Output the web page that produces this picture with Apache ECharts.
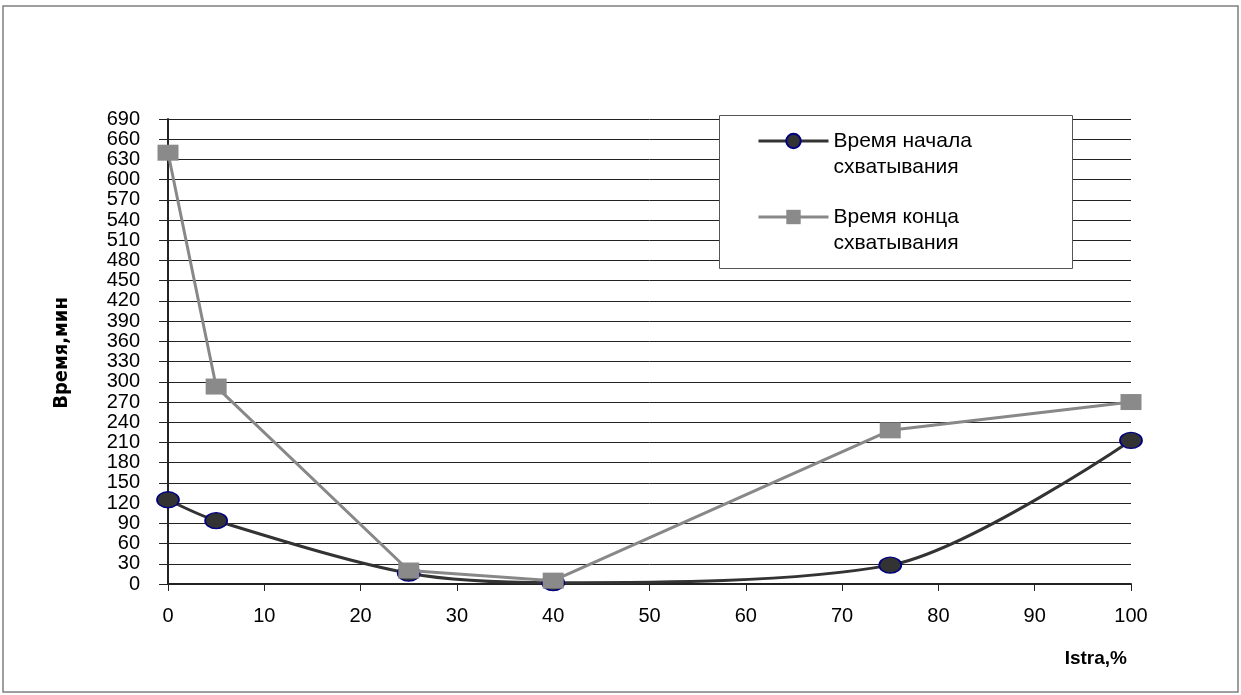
<!DOCTYPE html>
<html>
<head>
<meta charset="utf-8">
<script src="https://cdn.jsdelivr.net/npm/echarts@6/dist/echarts.min.js"></script>
<style>
  html, body { margin: 0; padding: 0; background: #fff; }
  #chart { width: 1241px; height: 695px; }
</style>
</head>
<body>
<div id="chart"></div>
<script>
// Istra content, %
const percentages = [0, 5, 25, 40, 75, 100];
// Setting times, minutes
const startTimes = [125, 94, 16, 2, 28, 213];
const endTimes = [640, 293, 20, 5, 228, 270];

const seriesNames = ['Время начала\nсхватывания', 'Время конца\nсхватывания'];
const yAxisTitle = 'Время,мин';
const xAxisTitle = 'Istra,%';

const pairs = (xs, ys) => xs.map((x, i) => [x, ys[i]]);

const chart = echarts.init(document.getElementById('chart'), null, { renderer: 'canvas' });

chart.setOption({
  backgroundColor: '#ffffff',
  animation: false,
  textStyle: { fontFamily: 'Liberation Sans, Arial, sans-serif' },
  grid: { left: 168, right: 110, top: 119, bottom: 111, show: false },
  xAxis: {
    type: 'value',
    min: 0, max: 100, interval: 10,
    axisLine: { show: true, lineStyle: { color: '#222', width: 2 } },
    axisTick: { show: true, inside: false, length: 7, lineStyle: { color: '#222', width: 1 } },
    axisLabel: { margin: 22, fontSize: 20, color: '#000', fontFamily: 'Liberation Sans, Arial, sans-serif' },
    splitLine: { show: false }
  },
  yAxis: {
    type: 'value',
    min: 0, max: 690, interval: 30,
    axisLine: { show: true, lineStyle: { color: '#222', width: 2 } },
    axisTick: { show: true, inside: false, length: 9, lineStyle: { color: '#222', width: 1 } },
    axisLabel: { margin: 28, fontSize: 20, color: '#000', fontFamily: 'Liberation Sans, Arial, sans-serif' },
    splitLine: { show: true, lineStyle: { color: '#222', width: 1 } }
  },
  legend: {
    orient: 'vertical',
    left: 757, top: 102,
    padding: 0,
    itemGap: -2,
    itemWidth: 70, itemHeight: 18,
    lineStyle: { width: 3 },
    // a leading blank line puts the icon level with the caption's first line
    formatter: name => '\n' + name,
    textStyle: {
      fontSize: 21, lineHeight: 26, color: '#000',
      fontFamily: 'Liberation Sans, Arial, sans-serif'
    },
    data: seriesNames,
    z: 6
  },
  graphic: [
    {
      type: 'rect', z: -1, silent: true,
      shape: { x: 3, y: 6, width: 1235, height: 686 },
      style: { fill: 'none', stroke: '#7f7f7f', lineWidth: 1.5 }
    },
    {
      // legend frame
      type: 'rect', z: 5, silent: true,
      shape: { x: 719.5, y: 115.5, width: 353, height: 153 },
      style: { fill: '#fff', stroke: '#555', lineWidth: 1 }
    },
    {
      type: 'text', silent: true,
      x: 62, y: 353, rotation: Math.PI / 2,
      style: {
        text: yAxisTitle, fill: '#000', align: 'center', verticalAlign: 'middle',
        font: 'bold 20px "Liberation Sans Narrow", "DejaVu Sans Condensed", sans-serif'
      }
    },
    {
      type: 'text', silent: true,
      x: 1127, y: 659,
      style: {
        text: xAxisTitle, fill: '#000', align: 'right', verticalAlign: 'middle',
        font: 'bold 19px "Liberation Sans", Arial, sans-serif'
      }
    }
  ],
  series: [
    {
      name: seriesNames[0],
      type: 'line',
      data: pairs(percentages, startTimes),
      smooth: 0.3,
      symbol: 'circle',
      symbolSize: [22, 16],
      lineStyle: { color: '#333333', width: 3 },
      itemStyle: { color: '#333333', borderColor: '#000080', borderWidth: 1.5 },
      z: 3
    },
    {
      name: seriesNames[1],
      type: 'line',
      data: pairs(percentages, endTimes),
      smooth: false,
      symbol: 'rect',
      symbolSize: [21, 16],
      lineStyle: { color: '#888888', width: 3 },
      itemStyle: { color: '#8a8a8a', borderWidth: 0 },
      z: 4
    }
  ]
});
</script>
</body>
</html>
